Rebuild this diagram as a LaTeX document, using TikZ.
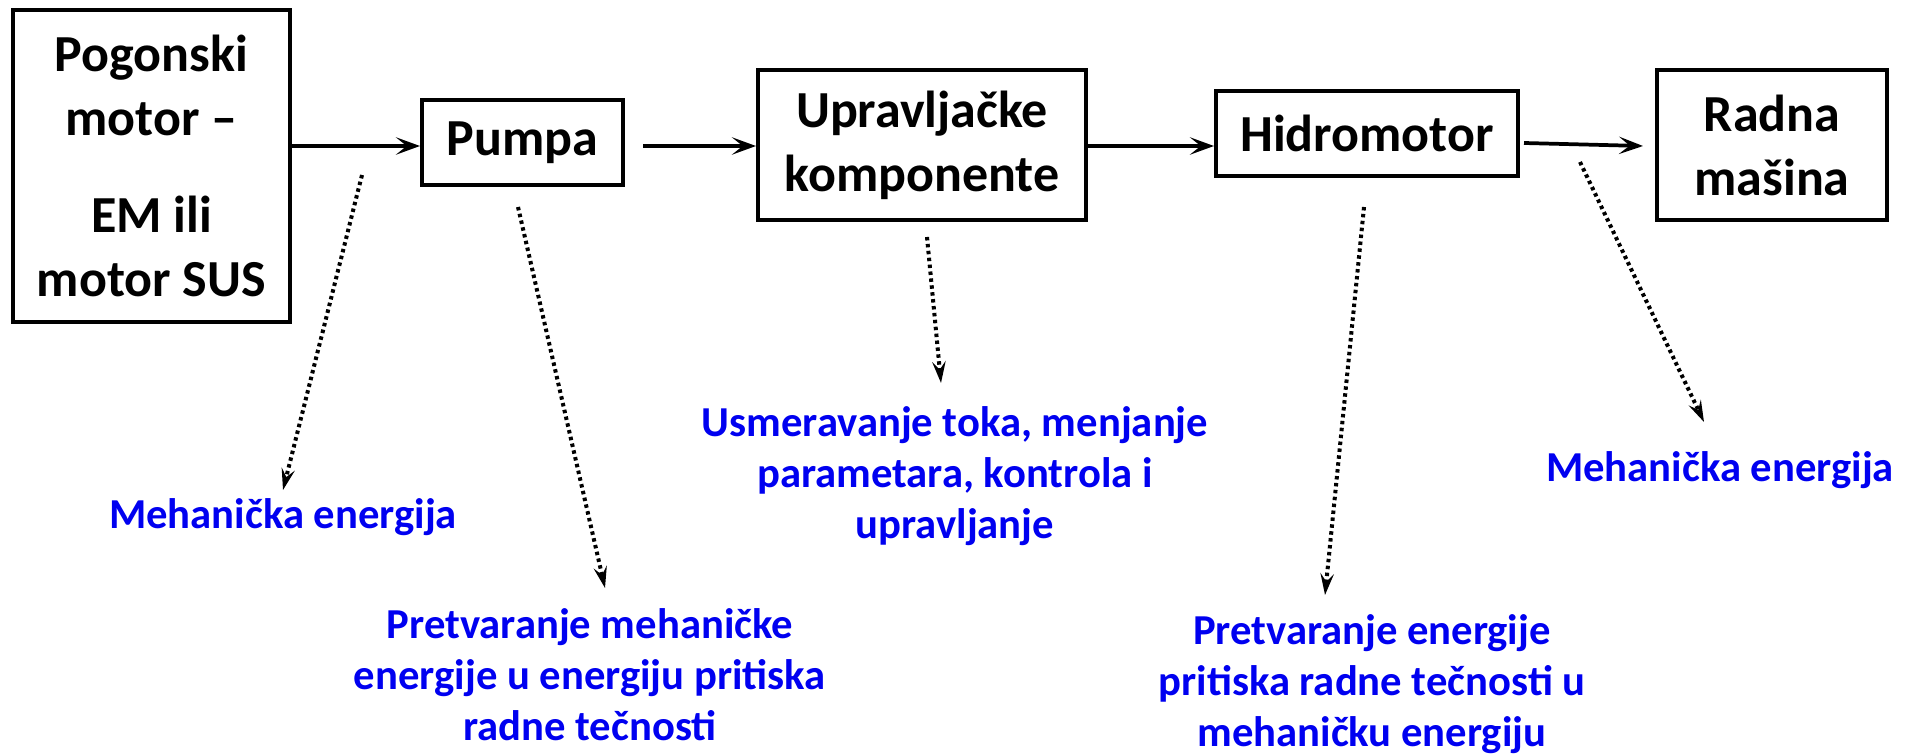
\documentclass[tikz,border=0pt]{standalone}
\usepackage{fontspec}
\setmainfont{Carlito}
\usetikzlibrary{arrows.meta}
\definecolor{lblue}{RGB}{0,0,240}
\begin{document}
\begin{tikzpicture}[x=0.75pt,y=-0.75pt,
  box/.style={draw, line width=3pt, inner sep=0pt, align=center,
    font=\fontsize{39}{48}\selectfont\bfseries},
  lbl/.style={text=lblue, inner sep=0pt, align=center, anchor=north,
    font=\fontsize{32}{38.5}\selectfont\bfseries},
  arr/.style={line width=2.8pt, -{Stealth[length=18pt,width=13pt,inset=8pt]}},
  dotarr/.style={line width=3pt, dash pattern=on 2.6pt off 2.6pt,
    -{Stealth[length=16pt,width=10pt,inset=6pt]}}]
\useasboundingbox (0,0) rectangle (1915,755);
% boxes
\node[box, minimum width=207.75pt, minimum height=234pt] (pog) at (151.5,166)
  {Pogonski\\motor –\\[25pt]EM ili\\motor SUS};
\node[box, minimum width=150.75pt, minimum height=63.75pt] (pump) at (522.5,142.5) {Pumpa};
\node[box, minimum width=246pt, minimum height=112.5pt] (upr) at (922,145)
  {Upravljačke\\komponente};
\node[box, minimum width=226.5pt, minimum height=63.75pt] (hid) at (1367,133.5) {Hidromotor};
\node[box, minimum width=172.5pt, minimum height=112.5pt] (rad) at (1772,145)
  {Radna\\mašina};
% horizontal arrows
\draw[arr] (pog.east |- 0,146) -- (pump.west |- 0,146);
\draw[arr, shorten <=13.5pt] (pump.east |- 0,146) -- (upr.west |- 0,146);
\draw[arr] (upr.east |- 0,146) -- (hid.west |- 0,146);
\draw[arr] ([xshift=3pt]hid.east |- 0,143) -- ([xshift=-9pt]rad.west |- 0,146);
% labels
\node[lbl] (mech1) at (283,498) {Mehanička energija};
\node[lbl] (pret1) at (590,608) {Pretvaranje mehaničke\\energije u energiju pritiska\\radne tečnosti};
\node[lbl] (usm) at (955,406) {Usmeravanje toka, menjanje\\parametara, kontrola i\\upravljanje};
\node[lbl] (pret2) at (1372,614) {Pretvaranje energije\\pritiska radne tečnosti u\\mehaničku energiju};
\node[lbl] (mech2) at (1720,451) {Mehanička energija};
% dotted arrows
\coordinate (s1) at (362,175); \coordinate (e1) at (283,490);
\coordinate (s2) at (518,207); \coordinate (e2) at (605,588);
\coordinate (s3) at (927,237); \coordinate (e3) at (941,383);
\coordinate (s4) at (1364,207); \coordinate (e4) at (1325,595);
\coordinate (s5) at (1580,162); \coordinate (e5) at (1704,422);
\draw[dotarr] (s1) -- (e1);
\draw[dotarr] (s2) -- (e2);
\draw[dotarr] (s3) -- (e3);
\draw[dotarr] (s4) -- (e4);
\draw[dotarr] (s5) -- (e5);
\end{tikzpicture}
\end{document}
